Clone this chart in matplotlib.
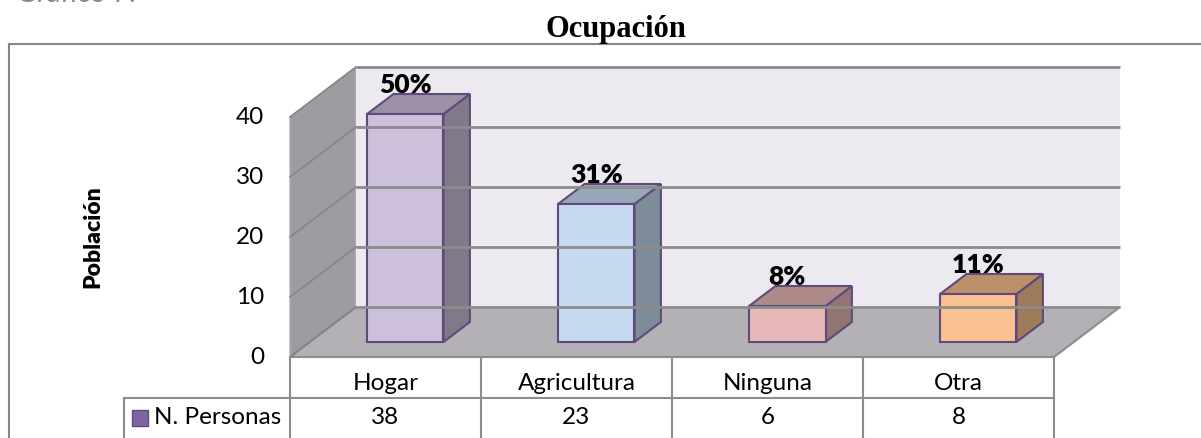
import matplotlib.pyplot as plt
from matplotlib.patches import Polygon

# datos del grafico
categorias = ["Hogar", "Agricultura", "Ninguna", "Otra"]
personas = [38, 23, 6, 8]
porcentajes = ["50%", "31%", "8%", "11%"]
yticks = [0, 10, 20, 30, 40]
serie = "N. Personas"
titulo = "Ocupación"
eje_y = "Población"

# colores de cada barra (frente, tapa, costado)
frente = ["#CDC0DB", "#C6D9F1", "#E6B9B8", "#FAC090"]
tapa = ["#9C90A7", "#98A7B8", "#AE8B89", "#BC8F6B"]
costado = ["#7F7989", "#7E8B98", "#917474", "#9E7B5A"]
borde = "#5F4A7B"
gris = "#8C8C8C"

# geometria en pixeles de la figura
W, H = 1201, 438
X0, Y0 = 290, 357        # origen del plano frontal
PX_CAT, PX_VAL = 191, 6  # pixeles por categoria y por unidad
DX = 66 / PX_CAT         # desplazamiento de profundidad
DY = 50 / PX_VAL
YMAX = max(yticks)
n = len(categorias)


def cx(px):
    return (px - X0) / PX_CAT


def vy(py):
    return (Y0 - py) / PX_VAL


def P(c, v, d):
    # proyeccion oblicua: categoria, valor, profundidad (0..1)
    return (c + d * DX, v + d * DY)


fig = plt.figure(figsize=(W / 100, H / 100), dpi=100)
ax = fig.add_axes([0, 0, 1, 1])
ax.set_xlim(cx(0), cx(W))
ax.set_ylim(vy(H), vy(0))
ax.axis("off")

fuente = "Lato"

# paredes y piso
pared_lado = [P(0, 0, 0), P(0, 0, 1), P(0, YMAX, 1), P(0, YMAX, 0)]
ax.add_patch(Polygon(pared_lado, closed=True, fc="#9E9CA0", ec="#B0B0B0", lw=1))
piso = [P(0, 0, 0), P(n, 0, 0), P(n, 0, 1), P(0, 0, 1)]
ax.add_patch(Polygon(piso, closed=True, fc="#B4B1B6", ec=gris, lw=1.5))
fondo = [P(0, 0, 1), P(n, 0, 1), P(n, YMAX, 1), P(0, YMAX, 1)]
ax.add_patch(Polygon(fondo, closed=True, fc="#ECE9F1", ec="none"))

for t in yticks:
    a, b = P(0, t, 1), P(n, t, 1)
    ax.plot([a[0], b[0]], [a[1], b[1]], color=gris, lw=2, solid_capstyle="butt")
    a, b = P(0, t, 0), P(0, t, 1)
    ax.plot([a[0], b[0]], [a[1], b[1]], color="#858585", lw=1.2)
    ax.text(cx(264), t, str(t), ha="right", va="center", fontsize=17.5,
            family=fuente)

# barras 3d
d0, d1 = 0.3, 0.7
for i, v in enumerate(personas):
    x0, x1 = i + 0.3, i + 0.7
    caras = [
        ([P(x1, 0, d0), P(x1, 0, d1), P(x1, v, d1), P(x1, v, d0)], costado[i]),
        ([P(x0, v, d0), P(x1, v, d0), P(x1, v, d1), P(x0, v, d1)], tapa[i]),
        ([P(x0, 0, d0), P(x1, 0, d0), P(x1, v, d0), P(x0, v, d0)], frente[i]),
    ]
    for pts, col in caras:
        ax.add_patch(Polygon(pts, closed=True, fc=col, ec=borde, lw=1.5,
                             joinstyle="miter"))
    lx = P(i + 0.5, v, d0)[0]
    ly = P(i + 0.5, v, d1)[1]
    ax.text(lx, ly + 0.2, porcentajes[i], ha="center", va="baseline",
            fontsize=19, fontweight="heavy", family=fuente)

# tabla de datos
fila = vy(398)
for k in range(n + 1):
    ax.plot([k, k], [0, vy(H)], color=gris, lw=1.5)
ax.plot([cx(124), n], [fila, fila], color=gris, lw=1.5)
ax.plot([cx(124), cx(124)], [fila, vy(H)], color=gris, lw=1.5)
for i, cat in enumerate(categorias):
    ax.text(i + 0.5, vy(383), cat, ha="center", va="center", fontsize=17.5,
            family=fuente)
    ax.text(i + 0.5, vy(418), str(personas[i]), ha="center", va="center",
            fontsize=17.5, family=fuente)
ax.plot([cx(140.5)], [vy(418)], marker="s", ms=11, color="#8064A2",
        mec="#5F4A7B", mew=1)
ax.text(cx(154), vy(418), serie, ha="left", va="center", fontsize=17.5,
        family=fuente)

# marco, titulo y etiqueta del eje
ax.plot([cx(9), cx(9)], [vy(H), vy(44)], color="#878787", lw=1.5)
ax.plot([cx(9), cx(W)], [vy(44), vy(44)], color="#878787", lw=1.5)
ax.text(cx(616), vy(37), titulo, ha="center", va="baseline", fontsize=22,
        fontweight="bold", family="Liberation Serif")
ax.text(cx(93), 20, eje_y, ha="center", va="center", rotation=90,
        fontsize=16.5, fontweight="heavy", family=fuente)
# texto superior, cortado por el borde como en el original
ax.text(cx(16), vy(1.5), "Gráfico 7:", ha="left", va="baseline", fontsize=20,
        color="#8A8A8A", family=fuente)

fig.savefig("out.png", dpi=100)
